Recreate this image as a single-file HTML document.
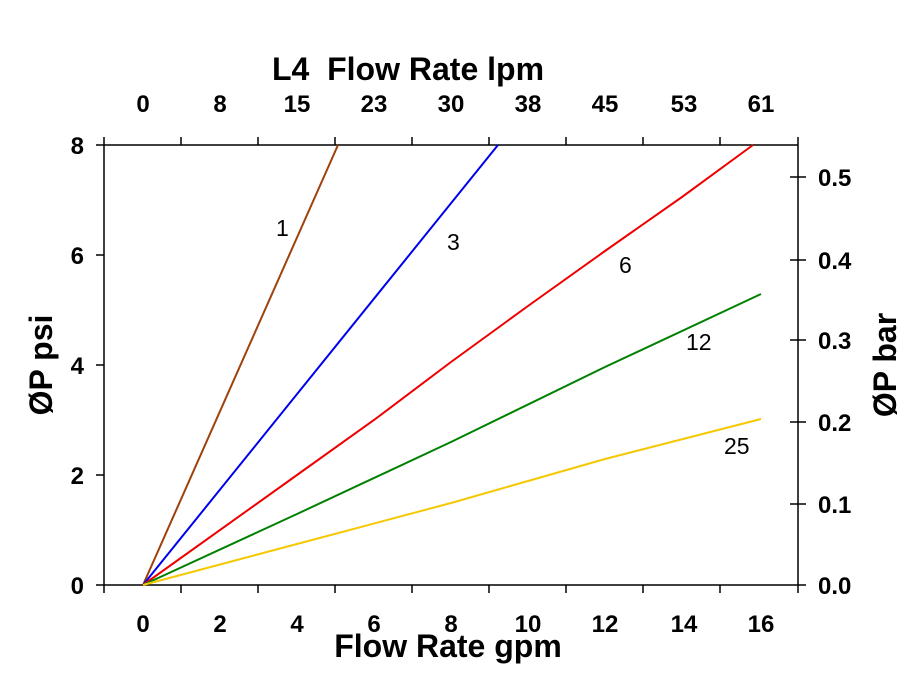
<!DOCTYPE html>
<html><head><style>body{margin:0;background:#fff}</style></head><body>
<svg width="916" height="694" xmlns="http://www.w3.org/2000/svg" font-family="Liberation Sans, Arial, sans-serif">
<rect width="916" height="694" fill="#fff"/>
<g stroke="#000" stroke-width="1.5" fill="none">
<line x1="96" y1="145" x2="798" y2="145"/>
<line x1="96" y1="585" x2="806" y2="585"/>
<line x1="104" y1="145" x2="104" y2="593"/>
<line x1="798" y1="137" x2="798" y2="593"/>
<line x1="96" y1="255" x2="104" y2="255"/>
<line x1="96" y1="365" x2="104" y2="365"/>
<line x1="96" y1="475" x2="104" y2="475"/>
<line x1="790" y1="504" x2="806" y2="504"/>
<line x1="790" y1="422" x2="806" y2="422"/>
<line x1="790" y1="340" x2="806" y2="340"/>
<line x1="790" y1="260" x2="806" y2="260"/>
<line x1="790" y1="177" x2="806" y2="177"/>
<path d="M181 145v-8M258 145v-8M335 145v-8M412 145v-8M489 145v-8M566 145v-8M643 145v-8M720 145v-8M104 145v-8"/>
<path d="M181 585v8M258 585v8M335 585v8M412 585v8M489 585v8M566 585v8M643 585v8M720 585v8"/>
</g>
<g fill="none" stroke-width="2">
<polyline stroke="#a0400a" points="143,585 338,145"/>
<polyline stroke="#0000ee" points="143,585 498,145"/>
<polyline stroke="#ee0000" points="143,585 297,475 374,420 451,362 528,306 605,251 682,197 753,145"/>
<polyline stroke="#008000" points="143,585 297,514 451,442 605,367 761,294"/>
<polyline stroke="#f5c800" points="143,585 297,544 451,503 528,481 605,459 761,419"/>
</g>
<g font-size="23" fill="#000">
<text x="276" y="236">1</text><text x="447" y="250">3</text><text x="619" y="273">6</text><text x="686" y="350">12</text><text x="724" y="454">25</text>
</g>
<g font-size="24" font-weight="bold" text-anchor="middle">
<text x="143" y="112">0</text><text x="220" y="112">8</text><text x="297" y="112">15</text><text x="374" y="112">23</text><text x="451" y="112">30</text><text x="528" y="112">38</text><text x="605" y="112">45</text><text x="684" y="112">53</text><text x="761" y="112">61</text>
<text x="143" y="632">0</text><text x="220" y="632">2</text><text x="297" y="632">4</text><text x="374" y="632">6</text><text x="451" y="632">8</text><text x="528" y="632">10</text><text x="605" y="632">12</text><text x="684" y="632">14</text><text x="761" y="632">16</text>
</g>
<g font-size="24" font-weight="bold" text-anchor="end">
<text x="84" y="154">8</text><text x="84" y="264">6</text><text x="84" y="374">4</text><text x="84" y="484">2</text><text x="84" y="594">0</text>
</g>
<g font-size="24" font-weight="bold">
<text x="818" y="594">0.0</text><text x="818" y="513">0.1</text><text x="818" y="431">0.2</text><text x="818" y="349">0.3</text><text x="818" y="269">0.4</text><text x="818" y="186">0.5</text>
</g>
<g font-size="32" font-weight="bold" text-anchor="middle">
<text x="408" y="80" xml:space="preserve">L4  Flow Rate lpm</text>
<text x="448" y="657">Flow Rate gpm</text>
<text transform="translate(52,365) rotate(-90)">ØP psi</text>
<text transform="translate(896,365) rotate(-90)">ØP bar</text>
</g>
</svg>
</body></html>
